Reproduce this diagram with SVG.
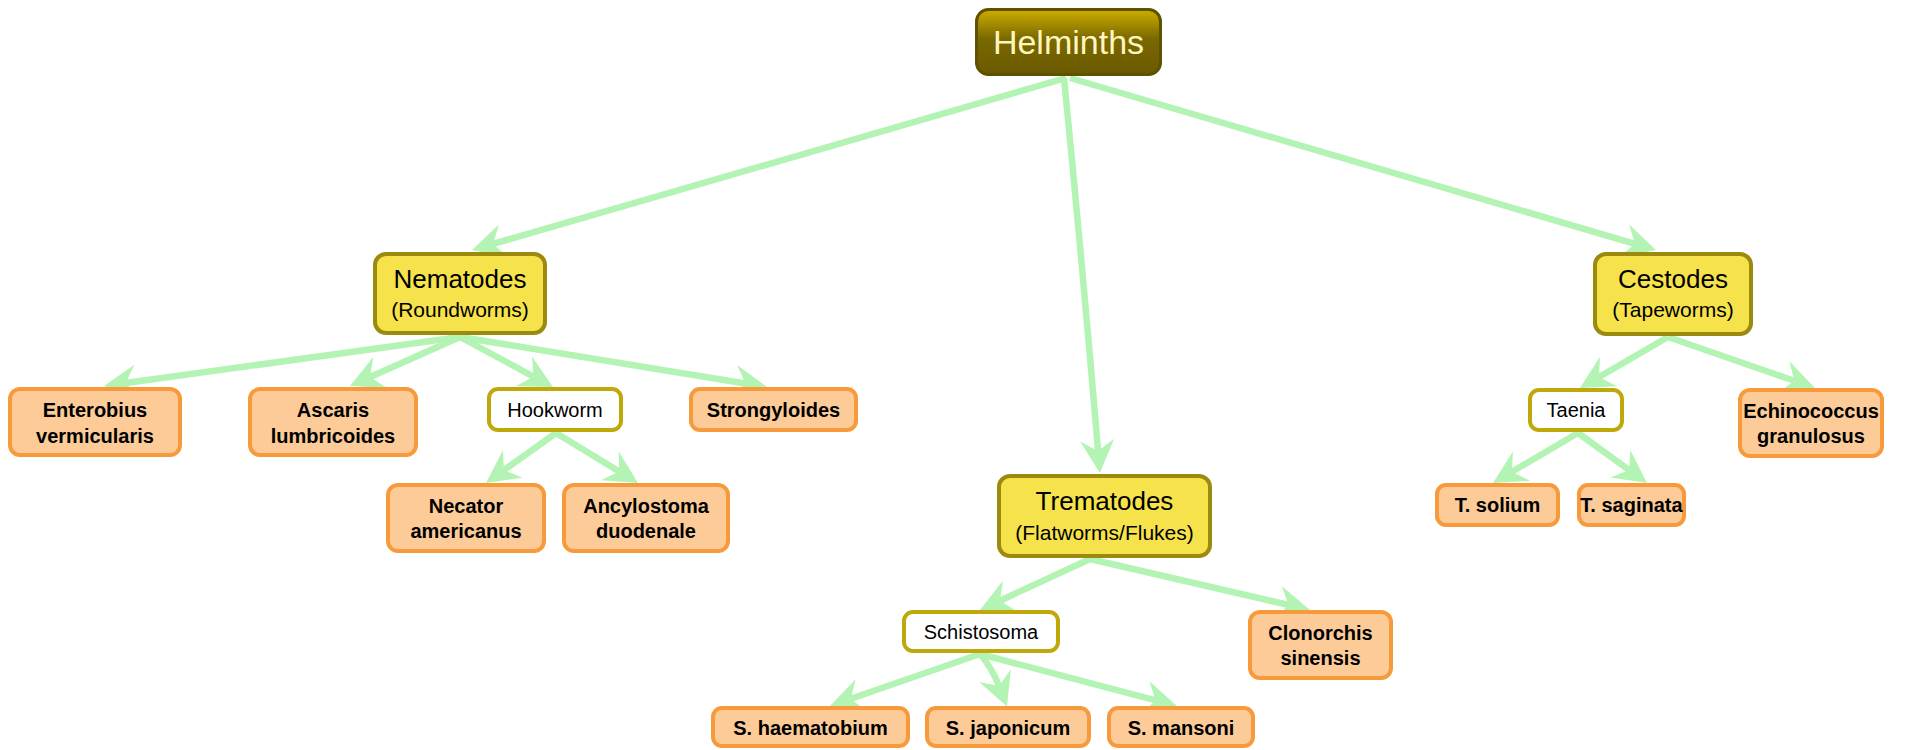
<svg xmlns="http://www.w3.org/2000/svg" width="1931" height="750" viewBox="0 0 1931 750">
<style>
.edge{fill:none;stroke:#b3f3b3;stroke-width:6.5;marker-end:url(#vee)}
.cat rect{fill:#f6e34b;stroke:#9c8a0e;stroke-width:4}
.grp rect{fill:#ffffff;stroke:#bfa80a;stroke-width:4}
.leaf rect{fill:#fccb98;stroke:#f79a3b;stroke-width:4}
text{font-family:"Liberation Sans",Arial,sans-serif;text-anchor:middle;fill:#000}
.t{font-size:26px}
.s{font-size:21px}
.g{font-size:20px}
.l{font-size:20px;font-weight:bold}
.root text{font-size:34px;fill:#fff6bd}
</style>
<defs>
<linearGradient id="rootg" x1="0" y1="0" x2="0" y2="1">
<stop offset="0" stop-color="#cdae00"/>
<stop offset="0.45" stop-color="#7a6800"/>
<stop offset="1" stop-color="#6a5a00"/>
</linearGradient>
<marker id="vee" markerUnits="userSpaceOnUse" markerWidth="60" markerHeight="60" refX="0" refY="0" orient="auto" overflow="visible" viewBox="-30 -30 60 60">
<path d="M22,0 L-11,-17 L0,0 L-11,17 Z" fill="#b3f3b3"/>
</marker>
</defs>
<rect width="1931" height="750" fill="#ffffff"/>
<g id="edges">
<path class="edge" d="M1066,78 L493.1,243.9"/>
<path class="edge" d="M1064,78 Q1082,260 1098.1,451.1"/>
<path class="edge" d="M1070,78 L1634.9,243.8"/>
<path class="edge" d="M460,337 L125.8,383"/>
<path class="edge" d="M460,337 L370.1,377"/>
<path class="edge" d="M460,337 L533.6,376.6"/>
<path class="edge" d="M460,337 L745.3,383.5"/>
<path class="edge" d="M556,433 L503.9,470.2"/>
<path class="edge" d="M556,433 L619.2,471.5"/>
<path class="edge" d="M1090,559 L1000,600.7"/>
<path class="edge" d="M1090,559 L1288.6,605"/>
<path class="edge" d="M980,654 L850.8,698.8"/>
<path class="edge" d="M980,654 Q992,668 999,686"/>
<path class="edge" d="M980,654 L1155.7,700.4"/>
<path class="edge" d="M1668,337 L1599,377"/>
<path class="edge" d="M1668,337 L1794.2,380.8"/>
<path class="edge" d="M1578,433 L1512,471.8"/>
<path class="edge" d="M1578,433 L1629.2,470.1"/>
</g>
<g id="helminths" class="root">
<rect x="976.5" y="9.5" width="184" height="65" rx="12" fill="url(#rootg)" stroke="#5e5200" stroke-width="3"/>
<text x="1068.5" y="54">Helminths</text>
</g>
<g id="nematodes" class="cat">
<rect x="375" y="254" width="170" height="79" rx="11"/>
<text class="t" x="460" y="288">Nematodes</text>
<text class="s" x="460" y="317">(Roundworms)</text>
</g>
<g id="trematodes" class="cat">
<rect x="999" y="476" width="211" height="80" rx="11"/>
<text class="t" x="1104.5" y="510">Trematodes</text>
<text class="s" x="1104.5" y="540">(Flatworms/Flukes)</text>
</g>
<g id="cestodes" class="cat">
<rect x="1595" y="254" width="156" height="80" rx="11"/>
<text class="t" x="1673" y="288">Cestodes</text>
<text class="s" x="1673" y="317">(Tapeworms)</text>
</g>
<g id="enterobius" class="leaf">
<rect x="10" y="389" width="170" height="66" rx="10"/>
<text class="l" x="95" y="417">Enterobius</text>
<text class="l" x="95" y="443">vermicularis</text>
</g>
<g id="ascaris" class="leaf">
<rect x="250" y="389" width="166" height="66" rx="10"/>
<text class="l" x="333" y="417">Ascaris</text>
<text class="l" x="333" y="443">lumbricoides</text>
</g>
<g id="hookworm" class="grp">
<rect x="489" y="389" width="132" height="41" rx="9"/>
<text class="g" x="555" y="416.5">Hookworm</text>
</g>
<g id="strongyloides" class="leaf">
<rect x="691" y="389" width="165" height="41" rx="9"/>
<text class="l" x="773.5" y="416.5">Strongyloides</text>
</g>
<g id="necator" class="leaf">
<rect x="388" y="485" width="156" height="66" rx="10"/>
<text class="l" x="466" y="513">Necator</text>
<text class="l" x="466" y="538">americanus</text>
</g>
<g id="ancylostoma" class="leaf">
<rect x="564" y="485" width="164" height="66" rx="10"/>
<text class="l" x="646" y="513">Ancylostoma</text>
<text class="l" x="646" y="538">duodenale</text>
</g>
<g id="schistosoma" class="grp">
<rect x="904" y="612" width="154" height="39" rx="9"/>
<text class="g" x="981" y="639">Schistosoma</text>
</g>
<g id="clonorchis" class="leaf">
<rect x="1250" y="612" width="141" height="66" rx="10"/>
<text class="l" x="1320.5" y="640">Clonorchis</text>
<text class="l" x="1320.5" y="665">sinensis</text>
</g>
<g id="haematobium" class="leaf">
<rect x="713" y="708" width="195" height="38" rx="9"/>
<text class="l" x="810.5" y="735">S. haematobium</text>
</g>
<g id="japonicum" class="leaf">
<rect x="927" y="708" width="162" height="38" rx="9"/>
<text class="l" x="1008" y="735">S. japonicum</text>
</g>
<g id="mansoni" class="leaf">
<rect x="1109" y="708" width="144" height="38" rx="9"/>
<text class="l" x="1181" y="735">S. mansoni</text>
</g>
<g id="taenia" class="grp">
<rect x="1530" y="390" width="92" height="40" rx="9"/>
<text class="g" x="1576" y="417">Taenia</text>
</g>
<g id="echinococcus" class="leaf">
<rect x="1740" y="390" width="142" height="66" rx="10"/>
<text class="l" x="1811" y="418">Echinococcus</text>
<text class="l" x="1811" y="443">granulosus</text>
</g>
<g id="solium" class="leaf">
<rect x="1437" y="485" width="121" height="40" rx="9"/>
<text class="l" x="1497.5" y="512">T. solium</text>
</g>
<g id="saginata" class="leaf">
<rect x="1579" y="485" width="105" height="40" rx="9"/>
<text class="l" x="1631.5" y="512">T. saginata</text>
</g>
</svg>
